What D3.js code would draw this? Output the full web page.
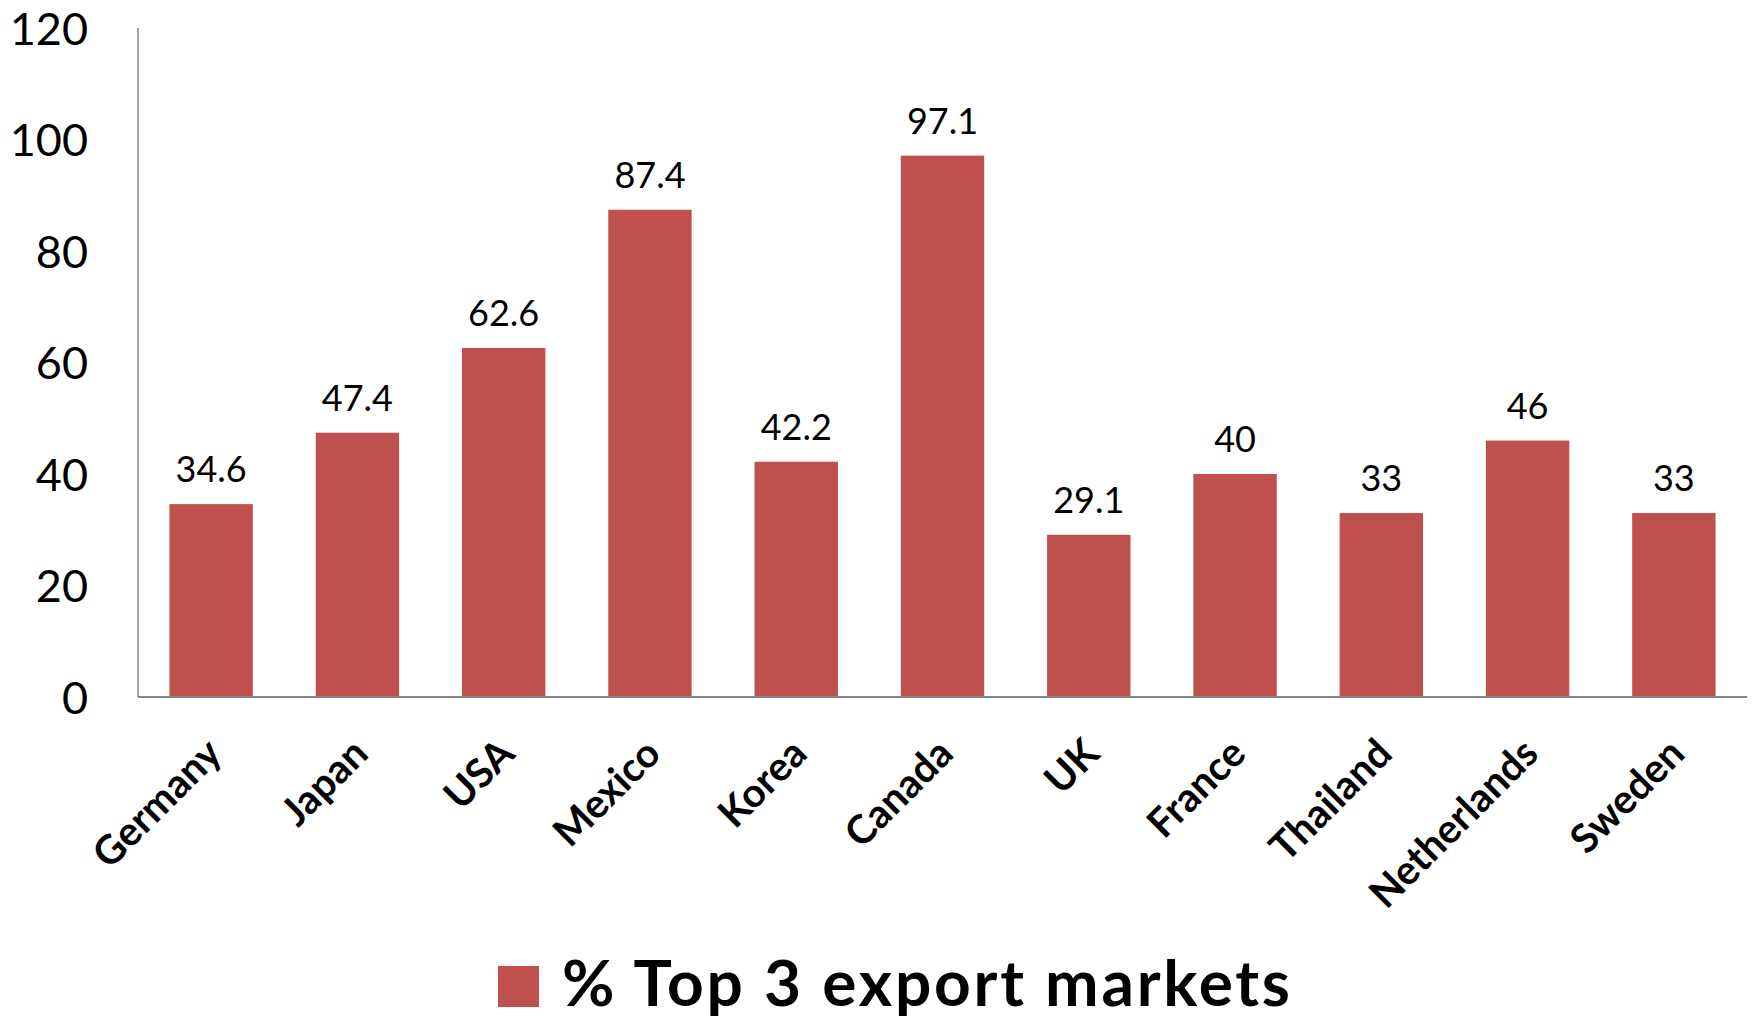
<!DOCTYPE html>
<html>
<head>
<meta charset="utf-8">
<script src="https://cdn.jsdelivr.net/npm/d3@7"></script>
<style>
  html, body { margin: 0; padding: 0; background: #fff; }
  svg { display: block; }
</style>
</head>
<body>
<svg id="chart" width="1752" height="1020"></svg>
<script>
const categories = ["Germany", "Japan", "USA", "Mexico", "Korea", "Canada", "UK", "France", "Thailand", "Netherlands", "Sweden"];
const values = [34.6, 47.4, 62.6, 87.4, 42.2, 97.1, 29.1, 40, 33, 46, 33];
const valueLabels = ["34.6", "47.4", "62.6", "87.4", "42.2", "97.1", "29.1", "40", "33", "46", "33"];
const yTicks = [0, 20, 40, 60, 80, 100, 120];
const seriesName = "% Top 3 export markets";

(function () {
const svg = d3.select("#chart");
const mLeft = 138, mRight = 1747, mTop = 28, mBottom = 697;
const barColor = "#C0504D";
const axisColor = "#868686";
const font = "Lato, 'Open Sans', sans-serif";

const x = d3.scaleBand().domain(categories).range([mLeft, mRight]).paddingInner(0.43).paddingOuter(0.215);
const y = d3.scaleLinear().domain([0, 120]).range([mBottom, mTop]);

// Bars
svg.append("g").selectAll("rect").data(categories).join("rect")
  .attr("x", d => x(d))
  .attr("width", x.bandwidth())
  .attr("y", (d, i) => y(values[i]))
  .attr("height", (d, i) => y(0) - y(values[i]))
  .attr("fill", barColor);

// Y axis
const yAxis = d3.axisLeft(y).tickValues(yTicks).tickSize(0).tickPadding(50);
const gy = svg.append("g").attr("transform", `translate(${mLeft},0)`).call(yAxis);
gy.select(".domain").attr("stroke", axisColor).attr("stroke-width", 1.5).attr("d", `M0,${mTop}V${mBottom}`);
gy.selectAll("text").attr("font-family", font).attr("font-size", 45).attr("fill", "#000").attr("dy", "0.36em");

// X axis
const xAxis = d3.axisBottom(x).tickSize(0).tickPadding(0);
const gx = svg.append("g").attr("transform", `translate(0,${mBottom})`).call(xAxis);
gx.select(".domain").attr("stroke", axisColor).attr("stroke-width", 2).attr("d", `M${mLeft},0H${mRight}`);
gx.selectAll("text")
  .attr("font-family", font).attr("font-size", 40).attr("font-weight", "bold").attr("fill", "#000")
  .attr("text-anchor", "end")
  .attr("y", 0).attr("dy", "0.35em")
  .attr("transform", "translate(3,49) rotate(-45)");

// Data labels
svg.append("g").selectAll("text").data(categories).join("text")
  .attr("x", d => x(d) + x.bandwidth() / 2)
  .attr("y", (d, i) => y(values[i]) - 22)
  .attr("text-anchor", "middle")
  .attr("font-family", font).attr("font-size", 36).attr("fill", "#000")
  .text((d, i) => valueLabels[i]);

// Legend
const lg = svg.append("g");
lg.append("rect").attr("x", 498).attr("y", 966).attr("width", 41).attr("height", 41).attr("fill", barColor);
lg.append("text").attr("x", 562).attr("y", 1006)
  .attr("font-family", font).attr("font-size", 64).attr("font-weight", "bold").attr("fill", "#000")
  .attr("textLength", 728).attr("lengthAdjust", "spacing")
  .text(seriesName);
})();
</script>
</body>
</html>
